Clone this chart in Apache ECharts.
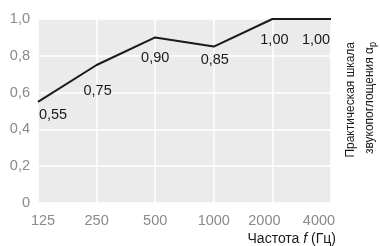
<!DOCTYPE html>
<html><head><meta charset="utf-8">
<script src="https://cdn.jsdelivr.net/npm/echarts@6/dist/echarts.min.js"></script>
<style>html,body{margin:0;padding:0;background:#fff}#c{width:380px;height:246px}</style>
</head><body><div id="c"></div>
<script>
var categories = ['125', '250', '500', '1000', '2000', '4000'];
var values = [0.55, 0.75, 0.90, 0.85, 1.00, 1.00];
var yTicks = [0, 0.2, 0.4, 0.6, 0.8, 1.0];
var xTitle = 'Частота ';
var xTitleItalic = 'f';
var xTitleEnd = ' (Гц)';
var yTitle1 = 'Практическая шкала';
var yTitle2 = 'звукопоглощения α';
var yTitleSub = 'p';

var FONT = '"Liberation Sans", Arial, sans-serif';
var labelOffsets = [[15, 1], [1, 13], [0, 8], [1, 1], [2, 8], [-15, 8]];
var catPad = [[0,0,0,10],0,0,0,[0,16,0,0],[0,24,0,0]];

function fmt(v){ return v === 0 ? '0' : v.toFixed(1).replace('.', ','); }

var chart = echarts.init(document.getElementById('c'), null, {renderer:'canvas'});
chart.setOption({
  animation: false,
  grid: {left: 38, top: 19, right: 49, bottom: 43, show: true, backgroundColor: '#ebebeb', borderWidth: 0},
  xAxis: {
    type: 'category', boundaryGap: false,
    data: categories.map(function(c, i){ return {value: c, textStyle: {padding: catPad[i]}}; }),
    axisLine: {show: false}, axisTick: {show: false},
    axisLabel: {color: '#8a8a8a', fontFamily: FONT, fontSize: 14.5, margin: 10},
    splitLine: {show: true, lineStyle: {color: '#ffffff', width: 1.5}}
  },
  yAxis: {
    type: 'value', min: yTicks[0], max: yTicks[yTicks.length-1], interval: 0.2,
    axisLine: {show: false}, axisTick: {show: false},
    axisLabel: {color: '#8a8a8a', fontFamily: FONT, fontSize: 14.5, margin: 8, formatter: fmt},
    splitLine: {show: true, lineStyle: {color: '#ffffff', width: 1.5}}
  },
  series: [{
    type: 'line', symbol: 'circle', symbolSize: 0, showSymbol: true,
    data: values.map(function(v, i){
      return {value: v, label: {offset: labelOffsets[i]}};
    }),
    lineStyle: {color: '#1a1a1a', width: 2},
    itemStyle: {color: '#1a1a1a'},
    label: {show: true, position: 'bottom', distance: 5, color: '#1a1a1a', fontFamily: FONT, fontSize: 14.5,
      formatter: function(p){ return p.value.toFixed(2).replace('.', ','); }}
  }],
  graphic: [
    {type: 'text', right: 44, top: 232, style: {
      text: '{a|' + xTitle + '}{i|' + xTitleItalic + '}{a|' + xTitleEnd + '}',
      rich: {a: {fontFamily: FONT, fontSize: 14, fill: '#1a1a1a'}, i: {fontFamily: FONT, fontSize: 14, fontStyle: 'italic', fill: '#1a1a1a'}}
    }},
    {type: 'text', x: 341, y: 42, rotation: Math.PI/2, scaleX: 0.92, style: {
      text: '{a|' + yTitle1 + '}\n{a|' + yTitle2 + '}{s|' + yTitleSub + '}',
      align: 'right', verticalAlign: 'top',
      rich: {a: {fontFamily: FONT, fontSize: 13, fill: '#1a1a1a', lineHeight: 19, align: 'right'},
             s: {fontFamily: FONT, fontSize: 10, fill: '#1a1a1a', lineHeight: 19, padding: [8,0,0,0]}}
    }}
  ]
});
</script></body></html>
